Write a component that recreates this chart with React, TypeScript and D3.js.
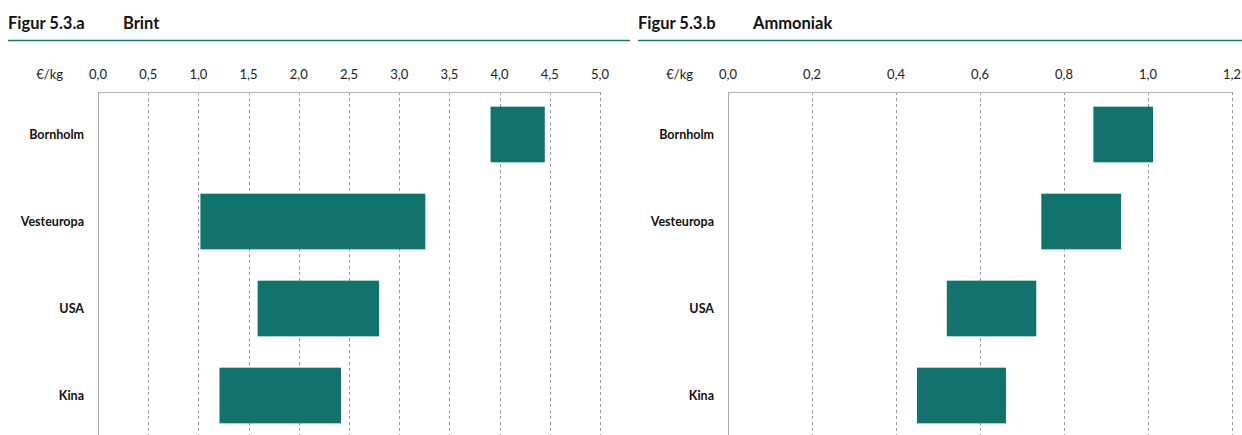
import React from 'react';
import * as d3 from 'd3';

const categories = ['Bornholm', 'Vesteuropa', 'USA', 'Kina'];

// Brint, €/kg (lav, høj)
const brintLow = [3.91, 1.02, 1.59, 1.21];
const brintHigh = [4.45, 3.26, 2.8, 2.42];
const brintTicks = [0, 0.5, 1, 1.5, 2, 2.5, 3, 3.5, 4, 4.5, 5];

// Ammoniak, €/kg (lav, høj)
const ammLow = [0.87, 0.746, 0.521, 0.45];
const ammHigh = [1.012, 0.936, 0.734, 0.662];
const ammTicks = [0, 0.2, 0.4, 0.6, 0.8, 1.0, 1.2];

const TEAL = '#12726c';
const FONT = 'Lato, "Open Sans", "Liberation Sans", sans-serif';

const fmt = (v: number) => d3.format('.1f')(v).replace('.', ',');

type PanelProps = {
  x0: number;
  lineEnd: number;
  figNo: string;
  title: string;
  low: number[];
  high: number[];
  ticks: number[];
  plotLeft: number;
  plotRight: number;
};

const Panel = ({ x0, lineEnd, figNo, title, low, high, ticks, plotLeft, plotRight }: PanelProps) => {
  const x = d3.scaleLinear().domain([ticks[0], ticks[ticks.length - 1]]).range([plotLeft, plotRight]);
  const y = d3
    .scaleBand<string>()
    .domain(categories)
    .range([91, 439])
    .paddingInner(0.36)
    .paddingOuter(0.18);
  const top = 92;
  const bottom = 440;

  return (
    <g>
      <text x={x0} y={29} fontFamily={FONT} fontWeight={700} fontSize={16.5} fill="#111">
        {figNo}
      </text>
      <text x={x0 + 115} y={29} fontFamily={FONT} fontWeight={700} fontSize={16.5} fill="#111">
        {title}
      </text>
      <line x1={x0} x2={lineEnd} y1={40.5} y2={40.5} stroke="#1f7a6e" strokeWidth={1.3} />

      <text x={plotLeft - 35} y={79} textAnchor="end" fontFamily={FONT} fontSize={13} fill="#222">
        €/kg
      </text>
      {ticks.map((t) => (
        <text key={t} x={x(t)} y={79} textAnchor="middle" fontFamily={FONT} fontSize={13} fill="#222">
          {fmt(t)}
        </text>
      ))}

      {ticks.slice(1).map((t) => (
        <line
          key={'g' + t}
          x1={Math.round(x(t)) + 0.5}
          x2={Math.round(x(t)) + 0.5}
          y1={top}
          y2={bottom}
          stroke="#9a9a9a"
          strokeWidth={1}
          strokeDasharray="3,3"
        />
      ))}
      <line x1={plotLeft} x2={plotRight} y1={top + 0.5} y2={top + 0.5} stroke="#b4b4b4" strokeWidth={1} />
      <line
        x1={Math.round(plotLeft) + 0.5}
        x2={Math.round(plotLeft) + 0.5}
        y1={top}
        y2={bottom}
        stroke="#a8a8a8"
        strokeWidth={1}
      />

      {categories.map((c, i) => (
        <g key={c}>
          <rect
            x={x(low[i])}
            y={y(c)}
            width={x(high[i]) - x(low[i])}
            height={y.bandwidth()}
            fill={TEAL}
          />
          <text
            x={plotLeft - 14}
            y={(y(c) as number) + y.bandwidth() / 2}
            dy="0.35em"
            textAnchor="end"
            fontFamily={FONT}
            fontWeight={700}
            fontSize={12.5}
            fill="#111"
          >
            {c}
          </text>
        </g>
      ))}
    </g>
  );
};

export default function App() {
  return (
    <div style={{ position: 'absolute', left: 0, top: 0 }}>
      <style>{`body{margin:0;}`}</style>
      <svg width={1242} height={435} style={{ display: 'block', background: '#fff' }}>
        <Panel
          x0={8}
          lineEnd={630}
          figNo="Figur 5.3.a"
          title="Brint"
          low={brintLow}
          high={brintHigh}
          ticks={brintTicks}
          plotLeft={98}
          plotRight={600}
        />
        <Panel
          x0={638}
          lineEnd={1242}
          figNo="Figur 5.3.b"
          title="Ammoniak"
          low={ammLow}
          high={ammHigh}
          ticks={ammTicks}
          plotLeft={728}
          plotRight={1232}
        />
      </svg>
    </div>
  );
}
